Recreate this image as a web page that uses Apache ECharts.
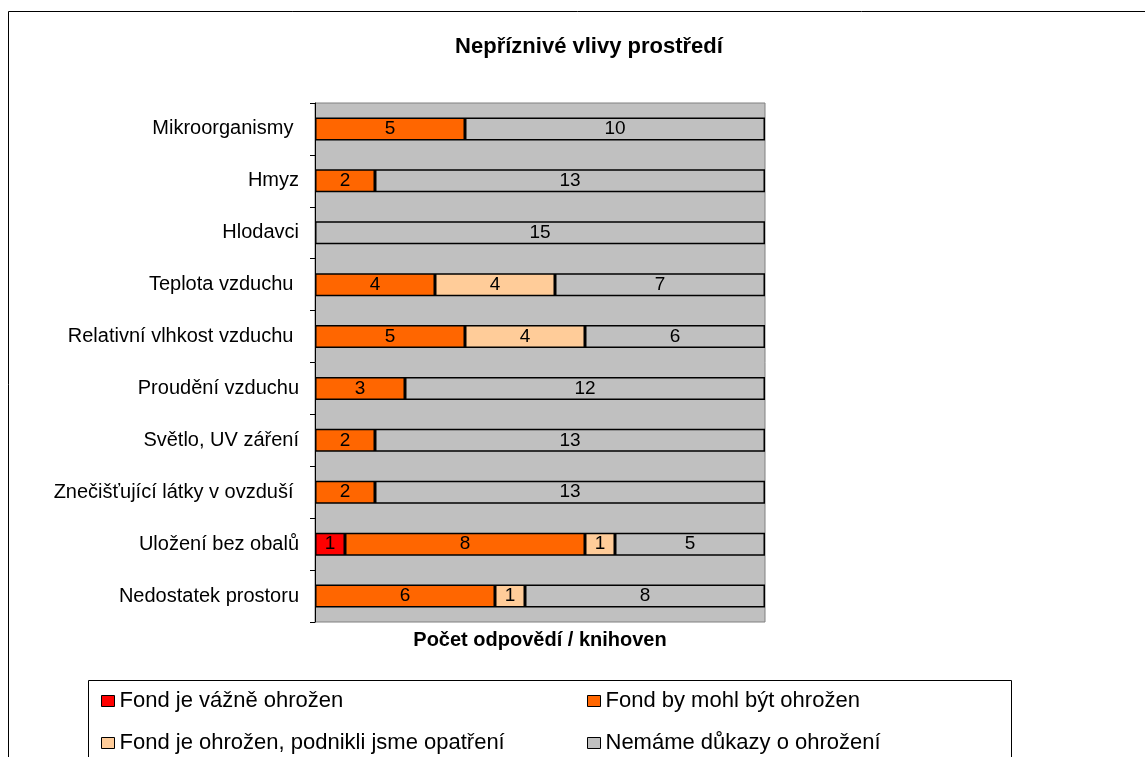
<!DOCTYPE html>
<html>
<head>
<meta charset="utf-8">
<script src="https://cdn.jsdelivr.net/npm/echarts@6/dist/echarts.min.js"></script>
<style>
  html, body { margin: 0; padding: 0; background: #fff; }
  #chart { width: 1145px; height: 757px; }
</style>
</head>
<body>
<div id="chart"></div>
<script>
// data
const categories = [
  "Mikroorganismy ", "Hmyz", "Hlodavci", "Teplota vzduchu ",
  "Relativní vlhkost vzduchu ", "Proudění vzduchu", "Světlo, UV záření",
  "Znečišťující látky v ovzduší ", "Uložení bez obalů", "Nedostatek prostoru"
];
const seriesNames = [
  "Fond je vážně ohrožen",
  "Fond by mohl být ohrožen",
  "Fond je ohrožen, podnikli jsme opatření",
  "Nemáme důkazy o ohrožení"
];
const vazne = [null, null, null, null, null, null, null, null, 1, null];
const mohl = [5, 2, null, 4, 5, 3, 2, 2, 8, 6];
const opatreni = [null, null, null, 4, 4, null, null, null, 1, 1];
const nemame = [10, 13, 15, 7, 6, 12, 13, 13, 5, 8];
const colors = ["#FF0000", "#FF6600", "#FFCC99", "#C0C0C0"];

const font = "Arial, 'Liberation Sans', sans-serif";
const chart = echarts.init(document.getElementById("chart"));

const values = [vazne, mohl, opatreni, nemame];
const series = values.map((d, i) => ({
  name: seriesNames[i],
  type: "bar",
  stack: "total",
  barWidth: 23,
  data: d,
  itemStyle: { color: colors[i], borderColor: "#000", borderWidth: 1.5 },
  label: {
    show: true,
    position: "inside",
    color: "#000",
    fontSize: 19,
    fontFamily: font
  },
  emphasis: { disabled: true }
}));

// legend positions (two columns, two rows)
const legendPos = [
  { left: 96, top: 685 },
  { left: 582, top: 685 },
  { left: 96, top: 727 },
  { left: 582, top: 727 }
];

chart.setOption({
  animation: false,
  title: {
    text: "Nepříznivé vlivy prostředí",
    left: 584,
    top: 31,
    textAlign: "center",
    textStyle: { fontSize: 22, fontWeight: "bold", color: "#000", fontFamily: font }
  },
  grid: {
    left: 315,
    top: 103,
    width: 450,
    height: 519,
    show: true,
    backgroundColor: "#C0C0C0",
    borderColor: "#808080",
    borderWidth: 1
  },
  xAxis: {
    type: "value",
    min: 0,
    max: 15,
    axisLabel: { show: false },
    axisTick: { show: false },
    axisLine: { show: false },
    splitLine: { show: false },
    name: "Počet odpovědí / knihoven",
    nameLocation: "middle",
    nameGap: 8,
    nameTextStyle: { fontSize: 20, fontWeight: "bold", color: "#000", fontFamily: font, verticalAlign: "top" }
  },
  yAxis: {
    type: "category",
    inverse: true,
    data: categories,
    axisLine: { show: true, lineStyle: { color: "#000", width: 1 } },
    axisTick: { show: true, length: 5, lineStyle: { color: "#000" } },
    axisLabel: { color: "#000", fontSize: 20, fontFamily: font, margin: 16 }
  },
  legend: legendPos.map((p, i) => ({
    data: [seriesNames[i]],
    left: p.left,
    top: p.top,
    icon: "rect",
    itemWidth: 13,
    itemHeight: 11,
    itemGap: 8,
    selectedMode: false,
    itemStyle: { borderColor: "#000", borderWidth: 1 },
    textStyle: { fontSize: 22, color: "#000", fontFamily: font }
  })),
  graphic: [
    {
      type: "rect",
      shape: { x: 8.5, y: 11.5, width: 1145, height: 760 },
      style: { fill: null, stroke: "#000", lineWidth: 1 },
      silent: true
    },
    {
      type: "rect",
      shape: { x: 88.5, y: 680.5, width: 923, height: 90 },
      style: { fill: null, stroke: "#000", lineWidth: 1 },
      silent: true
    }
  ],
  series: series
});
</script>
</body>
</html>
